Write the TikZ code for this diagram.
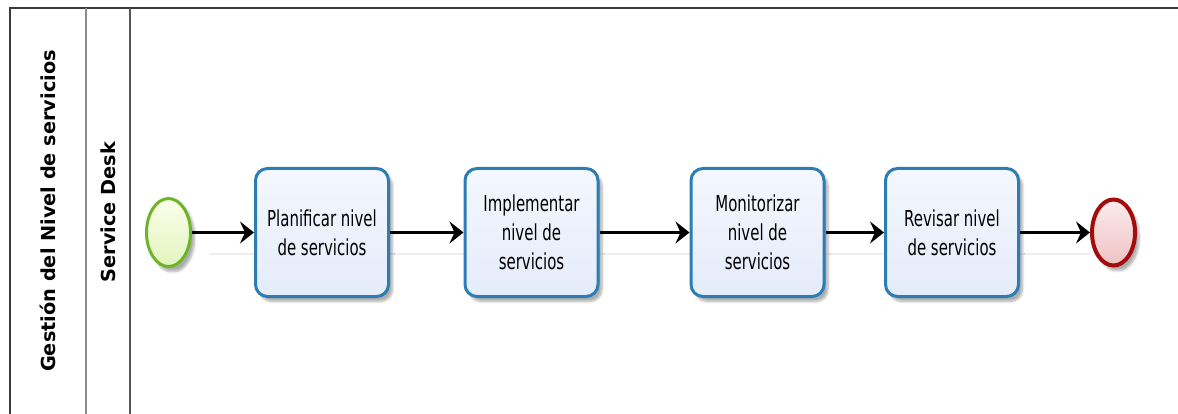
\documentclass[tikz,border=0pt]{standalone}
\usepackage{fontspec}
\setmainfont{DejaVu Sans}
\newfontfamily\taskfont[FakeStretch=0.68]{DejaVu Sans}
\usetikzlibrary{arrows.meta,shapes.geometric,shadows.blur}

\definecolor{poolline}{HTML}{3A3A3A}
\definecolor{laneline}{HTML}{8C8C8C}
\definecolor{taskborder}{HTML}{2C7DB3}
\definecolor{tasktop}{HTML}{F4F7FE}
\definecolor{taskbottom}{HTML}{E4EBFA}
\definecolor{startborder}{HTML}{6CB52A}
\definecolor{starttop}{HTML}{FBFFEA}
\definecolor{startbottom}{HTML}{E3F4BE}
\definecolor{endborder}{HTML}{A30C0C}
\definecolor{endtop}{HTML}{FCEBEB}
\definecolor{endbottom}{HTML}{EFC2C4}
\definecolor{guide}{HTML}{EEEEEE}

\tikzset{
  softshadow/.style={blur shadow={shadow xshift=4pt, shadow yshift=-5pt,
      shadow blur steps=8, shadow blur extra rounding=3pt, shadow opacity=32}},
  task/.style={rectangle, rounded corners=12pt, draw=taskborder, line width=3pt,
      top color=tasktop, bottom color=taskbottom, minimum width=133pt,
      minimum height=128pt, inner sep=0pt, align=center,
      font=\taskfont\fontsize{22}{29}\selectfont, softshadow},
  startev/.style={ellipse, draw=startborder, line width=3pt,
      top color=starttop, bottom color=startbottom, minimum width=44pt,
      minimum height=68pt, inner sep=0pt, softshadow},
  endev/.style={ellipse, draw=endborder, line width=4pt,
      top color=endtop, bottom color=endbottom, minimum width=43pt,
      minimum height=66pt, inner sep=0pt, softshadow},
  flow/.style={black, line width=2.2pt,
      -{Stealth[length=14pt, width=22pt, inset=5pt]}},
  lanelabel/.style={rotate=90, inner sep=0pt,
      font=\bfseries\fontsize{19.3}{19.3}\selectfont}
}

\begin{document}
\begin{tikzpicture}[x=1pt, y=-1pt]
\useasboundingbox (0,0) rectangle (1178,414);

% pool and lane frame
\draw[poolline, line width=2pt] (1178,8) -- (10,8) -- (10,414);
\draw[laneline, line width=1.5pt] (86,8) -- (86,414);
\draw[poolline!85, line width=1.5pt] (130,8) -- (130,414);
\node[lanelabel] (pool) at (48,211) {Gestión del Nivel de servicios};
\node[lanelabel] (lane) at (108,212) {Service Desk};

% faint guide line through the lane
\coordinate (gA) at (210,254);
\coordinate (gB) at (1090,254);
\draw[guide, line width=1.5pt] (gA) -- (gB);

% events and tasks
\node[startev] (start) at (168.5,232.5) {};
\node[task] (t1) at (322,232.5) {Planificar nivel\\de servicios};
\node[task] (t2) at (531.5,232.5) {Implementar\\nivel de\\servicios};
\node[task] (t3) at (757.5,232.5) {Monitorizar\\nivel de\\servicios};
\node[task] (t4) at (952,232.5) {Revisar nivel\\de servicios};
\node[endev] (end) at (1113.5,232.5) {};

% sequence flows
\draw[flow] (start.east) -- (t1.west);
\draw[flow] (t1.east) -- (t2.west);
\draw[flow] (t2.east) -- (t3.west);
\draw[flow] (t3.east) -- (t4.west);
\draw[flow] (t4.east) -- (end.west);
\end{tikzpicture}
\end{document}
